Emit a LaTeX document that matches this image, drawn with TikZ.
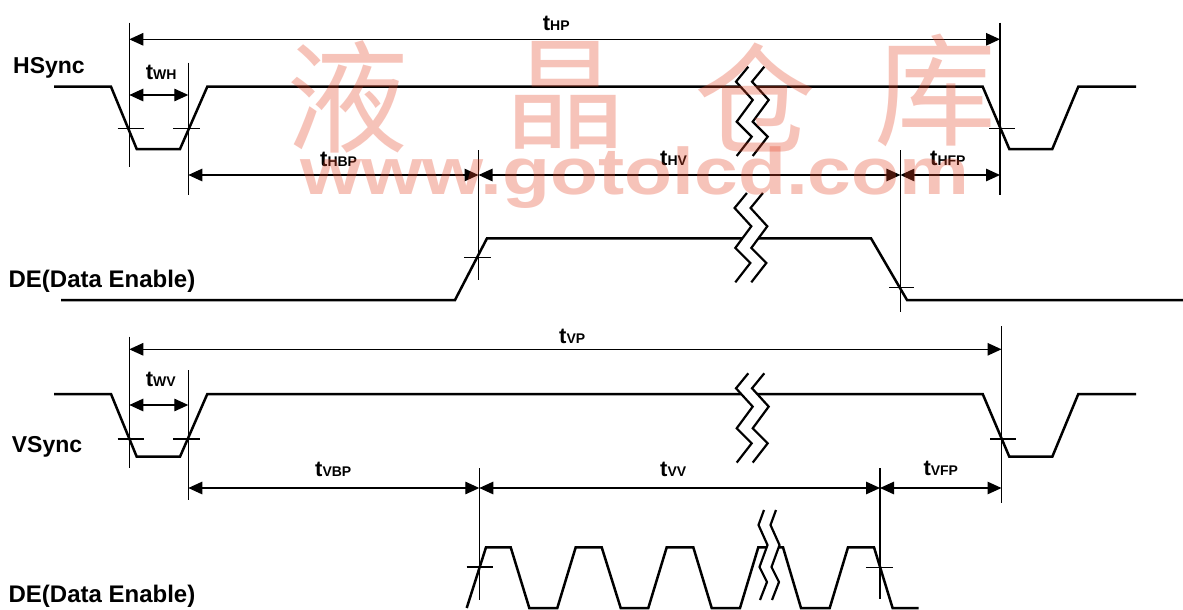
\documentclass[tikz,border=0pt]{standalone}
\usepackage{fontspec}
\setmainfont{Liberation Sans}
\newfontfamily\cjkfont{Noto Sans CJK SC}
\usetikzlibrary{arrows.meta}
\definecolor{wmred}{RGB}{230,70,40}
\newcommand\subs[1]{{\fontsize{14}{14}\selectfont #1}}
\newcommand\brkA[2]{%
  \begin{scope}[shift={(#1,#2)}]
    \fill[white] (12.3,0)--(0,15)--(16.7,33.3)--(0.7,55)--(15.7,70)--(0.7,89.3)--(16.7,89.3)--(31.7,70)--(16.7,55)--(32.7,33.3)--(16,15)--(28.3,0)--cycle;
    \draw[brkline] (12.3,0)--(0,15)--(16.7,33.3)--(0.7,55)--(15.7,70)--(0.7,89.3);
    \draw[brkline] (28.3,0)--(16,15)--(32.7,33.3)--(16.7,55)--(31.7,70)--(16.7,89.3);
  \end{scope}}
\newcommand\brkB[2]{%
  \begin{scope}[shift={(#1,#2)}]
    \fill[white] (5.5,0)--(0,15)--(9,35)--(1,57)--(8.5,72)--(1.5,90)--(13.5,90)--(20.5,72)--(13,57)--(21,35)--(12,15)--(17.5,0)--cycle;
    \draw[brkline] (5.5,0)--(0,15)--(9,35)--(1,57)--(8.5,72)--(1.5,90);
    \draw[brkline] (17.5,0)--(12,15)--(21,35)--(13,57)--(20.5,72)--(13.5,90);
  \end{scope}}
\begin{document}
\begin{tikzpicture}[x=1pt,y=-1pt,
  wave/.style={line width=2.5pt},
  thinl/.style={line width=1.3pt},
  dimarr/.style={line width=1.3pt,{Triangle[length=14pt,width=12.5pt]}-{Triangle[length=14pt,width=12.5pt]}},
  sig/.style={anchor=base west,inner sep=0pt,font=\fontsize{23}{23}\selectfont\bfseries},
  delab/.style={anchor=base west,inner sep=0pt,font=\fontsize{24}{24}\selectfont\bfseries},
  tlab/.style={anchor=base west,inner sep=0pt,font=\fontsize{22}{22}\selectfont\bfseries},
  brkline/.style={line width=2.2pt},
  wm/.style={text=wmred,opacity=0.32,text opacity=0.32,inner sep=0pt}
]
\useasboundingbox (0,0) rectangle (1183,610);
\fill[white] (0,0) rectangle (1183,610);

% ---------- HSync ----------
\node[sig] (hsync) at (13,74) {HSync};
\draw[wave] (54,86.7) -- (111,86.7) -- (136.7,149) -- (180,149) -- (207.3,86.7) -- (982.7,86.7) -- (1009.3,149) -- (1052.3,149) -- (1078.3,86.7) -- (1136,86.7);
\brkA{736}{66.7}
\draw[thinl] (117.7,128.3) -- (144,128.3);
\draw[thinl] (173.3,128.3) -- (200,128.3);
\draw[thinl] (989,128.3) -- (1015,128.3);
\draw[thinl] (129.3,22.7) -- (129.3,166.7);
\draw[thinl] (188.3,62.7) -- (188.3,195);
\draw[thinl] (478.5,150) -- (478.5,280);
\draw[thinl] (900.4,150) -- (900.4,311.7);
\draw[thinl] (1000,22.7) -- (1000,195);
\draw[dimarr] (129.3,39.3) -- (1000,39.3);
\draw[dimarr] (129.3,95) -- (188.3,95);
\draw[dimarr] (188.3,175) -- (478.5,175);
\draw[dimarr] (478.5,175) -- (900.4,175);
\draw[dimarr] (900.4,175) -- (1000,175);
\node[tlab] (thp) at (542.7,31) {t\subs{HP}};
\node[tlab] (twh) at (145.7,79) {t\subs{WH}};
\node[tlab] (thbp) at (320,166) {t\subs{HBP}};
\node[tlab] (thv) at (660,165.7) {t\subs{HV}};
\node[tlab] (thfp) at (930,165) {t\subs{HFP}};

% ---------- DE (1) ----------
\node[delab] (de1) at (8.4,287.3) {DE(Data Enable)};
\draw[wave] (61,300) -- (455,300) -- (487,238.3) -- (871,238.3) -- (907,300) -- (1183,300);
\brkA{734.6}{193}
\draw[thinl] (464.3,257.3) -- (491,257.3);
\draw[thinl] (889.2,287.3) -- (914.1,287.3);

% ---------- VSync ----------
\node[sig] (vsync) at (11.7,452.3) {VSync};
\draw[wave] (54,394) -- (111,394) -- (136.7,456.7) -- (180,456.7) -- (207.3,394) -- (982.7,394) -- (1009.3,456.7) -- (1052.3,456.7) -- (1078.3,394) -- (1136,394);
\brkA{736}{373.3}
\draw[thinl] (117.7,439) -- (144,439);
\draw[thinl] (173.3,439) -- (200,439);
\draw[thinl] (990,439) -- (1016,439);
\draw[thinl] (129.3,336.7) -- (129.3,468.3);
\draw[thinl] (188.3,370) -- (188.3,500);
\draw[thinl] (479.3,468.3) -- (479.3,600);
\draw[thinl] (880,468.3) -- (880,599.3);
\draw[thinl] (1001.5,326) -- (1001.5,503);
\draw[dimarr] (129.3,349.3) -- (1001.5,349.3);
\draw[dimarr] (129.3,405) -- (188.3,405);
\draw[dimarr] (188.3,488) -- (479.3,488);
\draw[dimarr] (479.3,488) -- (880,488);
\draw[dimarr] (880,488) -- (1001.5,488);
\node[tlab] (tvp) at (559,343.3) {t\subs{VP}};
\node[tlab] (twv) at (145.7,386) {t\subs{WV}};
\node[tlab] (tvbp) at (315,476.7) {t\subs{VBP}};
\node[tlab] (tvv) at (660,476) {t\subs{VV}};
\node[tlab] (tvfp) at (923.3,475) {t\subs{VFP}};

% ---------- DE (2) ----------
\node[delab] (de2) at (8.4,602) {DE(Data Enable)};
\draw[wave] (466.7,608) -- (486,547.3) -- (510.7,547.3) -- (529.3,608) -- (557.3,608) -- (575.7,547.3) -- (601.7,547.3) -- (620.7,608) -- (648.3,608) -- (666.7,547.3) -- (693.3,547.3) -- (711.7,608) -- (740,608) -- (758.3,547.3) -- (783,547.3) -- (801,608) -- (829.7,608) -- (848,547.3) -- (874,547.3) -- (892.6,608) -- (918.6,608);
\brkB{758.5}{510}
\draw[thinl] (466.7,567) -- (492.7,567);
\draw[thinl] (865.8,567.3) -- (892.6,567.3);

% ---------- watermark ----------
\node[wm,font=\cjkfont\fontsize{122}{122}\selectfont] (wm1) at (347,97) {液};
\node[wm,font=\cjkfont\fontsize{122}{122}\selectfont] (wm2) at (565,95) {晶};
\node[wm,font=\cjkfont\fontsize{122}{122}\selectfont] (wm3) at (755,97) {仓};
\node[wm,font=\cjkfont\fontsize{122}{122}\selectfont] (wm4) at (935,90) {库};
\node[wm,anchor=base west,font=\fontsize{66}{66}\selectfont\bfseries] (wm5) at (300,194) {\scalebox{1.19}[1]{www.gotolcd.com}};
\end{tikzpicture}
\end{document}
